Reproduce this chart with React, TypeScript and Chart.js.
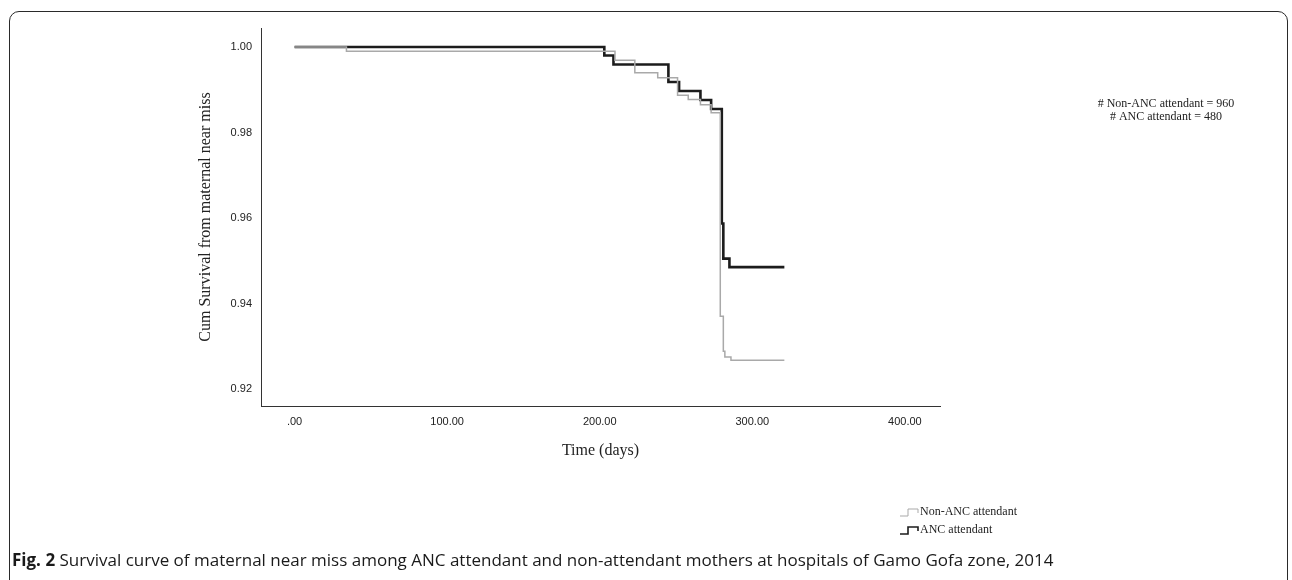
import React, { useEffect, useRef } from "react";
import { Chart, registerables } from "chart.js";

Chart.register(...registerables);

// ---- data ----
const ancDays = [0, 203, 209, 245, 252, 266, 273, 280, 281, 285, 321];
const ancSurvival = [1.0, 0.998, 0.9959, 0.9918, 0.9897, 0.9876, 0.9855, 0.9587, 0.9505, 0.9485, 0.9485];

const nonAncDays = [0, 34, 210, 223, 238, 251, 258, 266, 273, 279, 281, 282, 286, 321];
const nonAncSurvival = [1.0, 0.999, 0.9969, 0.994, 0.9928, 0.9887, 0.9877, 0.9865, 0.9846, 0.937, 0.9288, 0.9275, 0.9267, 0.9267];

const seriesLabels = ["Non-ANC attendant", "ANC attendant"];
const seriesColors = ["#a9a9a9", "#1c1c1c"];
const seriesWidths = [1.5, 2.6];

const xTickValues = [0, 100, 200, 300, 400];
const xTickLabels = [".00", "100.00", "200.00", "300.00", "400.00"];
const yTickValues = [0.92, 0.94, 0.96, 0.98, 1.0];
const yTickLabels = ["0.92", "0.94", "0.96", "0.98", "1.00"];

const sampleSizeLines = ["# Non-ANC attendant = 960", "# ANC attendant = 480"];

const xTitle = "Time (days)";
const yTitle = "Cum Survival from maternal near miss";
const captionBold = "Fig. 2";
const captionText =
  " Survival curve of maternal near miss among ANC attendant and non-attendant mothers at hospitals of Gamo Gofa zone, 2014";

const SERIF = '"Liberation Serif", "Times New Roman", serif';
const SANS = '"Liberation Sans", Arial, sans-serif';

const toPoints = (xs: number[], ys: number[]) => xs.map((x, i) => ({ x, y: ys[i] }));

const annotationPlugin = {
  id: "kmExtras",
  afterDraw(chart: any) {
    const ctx = chart.ctx;
    ctx.save();
    // sample-size annotation
    ctx.font = `12px ${SERIF}`;
    ctx.fillStyle = "#222";
    ctx.textAlign = "center";
    ctx.textBaseline = "middle";
    sampleSizeLines.forEach((t, i) => ctx.fillText(t, 1166, 104 + i * 13));

    // legend
    const ds = chart.data.datasets;
    ds.forEach((d: any, i: number) => {
      const y = 512 + i * 18;
      const x0 = 900;
      ctx.strokeStyle = d.borderColor;
      ctx.lineWidth = i === 0 ? 1 : 1.6;
      ctx.beginPath();
      ctx.moveTo(x0, y + 4);
      ctx.lineTo(x0 + 8, y + 4);
      ctx.lineTo(x0 + 8, y - 3);
      ctx.lineTo(x0 + 18, y - 3);
      ctx.lineTo(x0 + 18, y + 1);
      ctx.stroke();
      ctx.fillStyle = "#222";
      ctx.textAlign = "left";
      ctx.font = `12px ${SERIF}`;
      ctx.fillText(d.label, x0 + 20, y);
    });
    ctx.restore();
  },
};

export default function App() {
  const canvasRef = useRef<HTMLCanvasElement | null>(null);

  useEffect(() => {
    if (!canvasRef.current) return;
    const chart = new Chart(canvasRef.current, {
      type: "line",
      data: {
        datasets: [
          {
            label: seriesLabels[0],
            data: toPoints(nonAncDays, nonAncSurvival),
            borderColor: seriesColors[0],
            borderWidth: seriesWidths[0],
            stepped: "before",
            pointRadius: 0,
            fill: false,
            borderJoinStyle: "miter",
          },
          {
            label: seriesLabels[1],
            data: toPoints(ancDays, ancSurvival),
            borderColor: seriesColors[1],
            borderWidth: seriesWidths[1],
            stepped: "before",
            pointRadius: 0,
            fill: false,
            borderJoinStyle: "miter",
          },
        ],
      },
      options: {
        animation: false,
        responsive: false,
        devicePixelRatio: 1,
        layout: { padding: { left: 190, top: 28, right: 352, bottom: 119.4 } },
        plugins: { legend: { display: false }, tooltip: { enabled: false } },
        scales: {
          x: {
            type: "linear",
            min: -22,
            max: 423,
            grid: { display: false, drawTicks: false },
            border: { display: true, color: "#333", width: 1 },
            afterBuildTicks: (s: any) => {
              s.ticks = xTickValues.map((v) => ({ value: v }));
            },
            afterFit: (s: any) => {
              s.height = 54.6;
            },
            ticks: {
              padding: 9,
              color: "#222",
              font: { family: SANS, size: 11 },
              maxRotation: 0,
              callback: (v: any) => {
                const i = xTickValues.indexOf(Number(v));
                return i >= 0 ? xTickLabels[i] : "";
              },
            },
            title: {
              display: true,
              text: xTitle,
              color: "#222",
              font: { family: SERIF, size: 16 },
              padding: { top: 0, bottom: 0 },
            },
          },
          y: {
            type: "linear",
            min: 0.91602,
            max: 1.00444,
            grid: { display: false, drawTicks: false },
            border: { display: true, color: "#333", width: 1 },
            afterBuildTicks: (s: any) => {
              s.ticks = yTickValues.map((v) => ({ value: v }));
            },
            afterFit: (s: any) => {
              s.width = 71;
            },
            ticks: {
              padding: 9,
              color: "#222",
              font: { family: SANS, size: 11 },
              callback: (v: any) => {
                const i = yTickValues.findIndex((t) => Math.abs(t - Number(v)) < 1e-6);
                return i >= 0 ? yTickLabels[i] : "";
              },
            },
            title: {
              display: true,
              text: yTitle,
              color: "#222",
              font: { family: SERIF, size: 16 },
              padding: { top: 6, bottom: 0 },
            },
          },
        },
      },
      plugins: [annotationPlugin],
    } as any);
    return () => chart.destroy();
  }, []);

  return (
    <div style={{ position: "fixed", left: 0, top: 0, width: 1292, height: 580, overflow: "hidden", background: "#fff" }}>
      <div
        style={{
          position: "absolute",
          left: 9,
          top: 11,
          width: 1279,
          height: 620,
          border: "1.5px solid #2a2a2a",
          borderRadius: 10,
          boxSizing: "border-box",
        }}
      />
      <canvas
        ref={canvasRef}
        width={1292}
        height={580}
        style={{ position: "absolute", left: 0, top: 0, width: 1292, height: 580 }}
      />
      <div
        style={{
          position: "absolute",
          left: 12,
          top: 548,
          fontFamily: '"Open Sans", sans-serif',
          fontSize: 17,
          color: "#1a1a1a",
          whiteSpace: "nowrap",
        }}
      >
        <b>{captionBold}</b>
        {captionText}
      </div>
    </div>
  );
}
